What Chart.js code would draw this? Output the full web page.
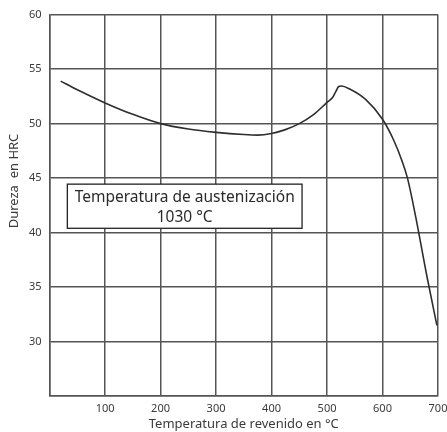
<!DOCTYPE html>
<html lang="es">
<head>
    <meta charset="UTF-8">
    <title>Dureza vs temperatura de revenido</title>
    <script src="https://cdn.jsdelivr.net/npm/chart.js"></script>
    <style>
        html, body { margin: 0; padding: 0; background: #fff; }
        #wrap { width: 447px; height: 432px; }
    </style>
</head>
<body>
<div id="wrap"><canvas id="hardnessChart" width="447" height="432"></canvas></div>

<script>
// tempering temperature (°C) and hardness (HRC)
const temperatures = [20, 50, 100, 150, 200, 250, 300, 350, 375, 400, 425, 450, 475, 500, 510, 516, 521, 526, 540, 570, 600, 620, 635, 645, 660, 680, 698];
const hardness =     [53.9, 53.1, 51.9, 50.85, 50.0, 49.5, 49.2, 49.0, 48.95, 49.1, 49.45, 50.0, 50.8, 51.95, 52.4, 52.95, 53.4, 53.45, 53.2, 52.2, 50.4, 48.5, 46.6, 45.0, 41.4, 36.0, 31.5];

const xTicks = [0, 100, 200, 300, 400, 500, 600, 700];
const yTicks = [25, 30, 35, 40, 45, 50, 55, 60];

const xTitle = 'Temperatura de revenido en °C';
const yTitle = 'Dureza  en HRC';
const boxLines = ['Temperatura de austenización', '1030 °C'];

const gridColor = '#555';
const textColor = '#3a3a3a';
const fontFamily = '"Noto Sans", sans-serif';

// text box inside the plot and the rotated y title
const extrasPlugin = {
    id: 'extras',
    afterDraw(chart) {
        const ctx = chart.ctx;
        const x = chart.scales.x, y = chart.scales.y;
        const left = x.getPixelForValue(32), right = x.getPixelForValue(455);
        const top = y.getPixelForValue(44.45), bottom = y.getPixelForValue(40.4);
        ctx.save();
        ctx.fillStyle = '#fff';
        ctx.fillRect(left, top, right - left, bottom - top);
        ctx.strokeStyle = '#222';
        ctx.lineWidth = 1.3;
        ctx.strokeRect(left, top, right - left, bottom - top);
        ctx.fillStyle = '#2a2a2a';
        ctx.font = '15.5px ' + fontFamily;
        ctx.textAlign = 'center';
        ctx.textBaseline = 'middle';
        const cx = (left + right) / 2;
        ctx.fillText(boxLines[0], cx, top + 13);
        ctx.fillText(boxLines[1], cx, top + 33);

        ctx.translate(14, 181);
        ctx.rotate(-Math.PI / 2);
        ctx.fillStyle = textColor;
        ctx.font = '13px ' + fontFamily;
        ctx.fillText(yTitle, 0, 0);
        ctx.restore();
    }
};

new Chart(document.getElementById('hardnessChart'), {
    type: 'line',
    data: {
        datasets: [{
            data: temperatures.map((t, i) => ({ x: t, y: hardness[i] })),
            borderColor: '#2e2e2e',
            borderWidth: 1.6,
            pointRadius: 0,
            cubicInterpolationMode: 'monotone',
            fill: false
        }]
    },
    options: {
        responsive: false,
        animation: false,
        layout: { padding: { left: 21, right: 0, top: 12, bottom: 0 } },
        plugins: { legend: { display: false }, tooltip: { enabled: false } },
        scales: {
            x: {
                type: 'linear',
                min: 0, max: 700,
                afterBuildTicks: axis => { axis.ticks = xTicks.map(v => ({ value: v })); },
                // let the last label run to the canvas edge like the original
                afterFit: axis => { axis.paddingRight = 9; },
                ticks: {
                    color: textColor,
                    font: { family: fontFamily, size: 11 },
                    padding: 6,
                    maxRotation: 0,
                    callback: v => v === 0 ? '' : v
                },
                grid: { color: gridColor, lineWidth: 1.5, drawTicks: false },
                border: { color: gridColor, width: 1.5 },
                title: {
                    display: true,
                    text: xTitle,
                    color: textColor,
                    font: { family: fontFamily, size: 13 },
                    padding: { top: -5, bottom: 0 }
                }
            },
            y: {
                min: 25, max: 60,
                afterBuildTicks: axis => { axis.ticks = yTicks.map(v => ({ value: v })); },
                ticks: {
                    color: textColor,
                    font: { family: fontFamily, size: 11 },
                    padding: 8,
                    callback: v => v === 25 ? '' : v
                },
                grid: { color: gridColor, lineWidth: 1.5, drawTicks: false },
                border: { color: gridColor, width: 1.5 }
            }
        }
    },
    plugins: [extrasPlugin]
});
</script>
</body>
</html>
